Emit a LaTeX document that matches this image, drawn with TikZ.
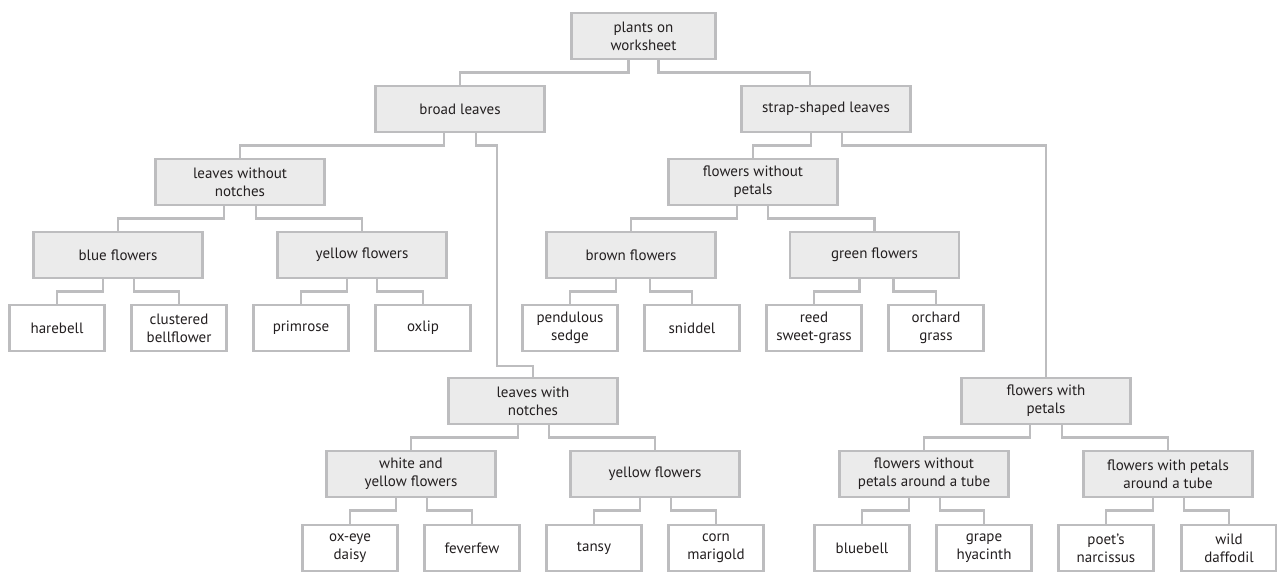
\documentclass[tikz,border=0pt]{standalone}
\usepackage{fontspec}
\setmainfont{PT Sans}
\definecolor{edgegray}{RGB}{189,189,191}
\definecolor{boxgray}{RGB}{235,235,235}
\definecolor{inkgray}{RGB}{35,31,32}
\begin{document}
\begin{tikzpicture}[x=1pt,y=-1pt,
  every node/.style={font=\fontsize{15}{18}\selectfont,text=inkgray,align=center,
    draw=edgegray,line width=2.8pt,inner sep=0pt},
  group/.style={fill=boxgray,minimum width=169pt,minimum height=46pt},
  plant/.style={fill=white,minimum width=95pt,minimum height=46pt},
  conn/.style={draw=edgegray,line width=2.8pt}]
\useasboundingbox (0,0) rectangle (1277,571);
\clip (0,0) rectangle (1277,571);
% key levels
\node[group,minimum width=144pt] (root) at (643.5,36) {plants on\\worksheet};
\node[group] (broad) at (460,109) {broad leaves};
\node[group] (strap) at (826,109) {strap-shaped leaves};
\node[group] (lwo) at (240,182) {leaves without\\notches};
\node[group] (fwop) at (753,182) {flowers without\\petals};
\node[group] (blue) at (118,255) {blue flowers};
\node[group] (yelA) at (362,255) {yellow flowers};
\node[group] (brown) at (631,255) {brown flowers};
\node[group] (green) at (874.5,255) {green flowers};
\node[group] (lwn) at (533,401) {leaves with\\notches};
\node[group] (fwp) at (1046,401) {flowers with\\petals};
\node[group] (wyf) at (411,474) {white and\\yellow flowers};
\node[group] (yelB) at (655,474) {yellow flowers};
\node[group] (tubeA) at (924,474) {flowers without\\petals around a tube};
\node[group] (tubeB) at (1168,474) {flowers with petals\\around a tube};
% plants
\node[plant] (harebell) at (57,328) {harebell};
\node[plant] (clustered) at (179,328) {clustered\\bellflower};
\node[plant] (primrose) at (301,328) {primrose};
\node[plant] (oxlip) at (423,328) {oxlip};
\node[plant] (sedge) at (570,328) {pendulous\\sedge};
\node[plant] (sniddel) at (692,328) {sniddel};
\node[plant] (reed) at (814,328) {reed\\sweet-grass};
\node[plant] (orchard) at (936,328) {orchard\\grass};
\node[plant] (oxeye) at (350,548) {ox-eye\\daisy};
\node[plant] (feverfew) at (472,548) {feverfew};
\node[plant] (tansy) at (594,548) {tansy};
\node[plant] (corn) at (716,548) {corn\\marigold};
\node[plant] (bluebell) at (862,548) {bluebell};
\node[plant] (grape) at (984,548) {grape\\hyacinth};
\node[plant] (poet) at (1106,548) {poet’s\\narcissus};
\node[plant] (wild) at (1229,548) {wild\\daffodil};
% connectors
\foreach \p/\c/\s in {root/broad/-15,broad/lwo/-16,strap/fwop/-15,strap/fwp/16,
  lwo/blue/-16,lwo/yelA/16,fwop/brown/-16,fwop/green/15,
  blue/harebell/-15,blue/clustered/16,yelA/primrose/-15,yelA/oxlip/15,
  brown/sedge/-15,brown/sniddel/19,green/reed/-15,green/orchard/19,
  lwn/wyf/-15,lwn/yelB/16,fwp/tubeA/-16,fwp/tubeB/16,
  wyf/oxeye/-15,wyf/feverfew/16,yelB/tansy/-15,yelB/corn/16,
  tubeA/bluebell/-15,tubeA/grape/16,tubeB/poet/-15,tubeB/wild/16}
  \draw[conn] (\p.south) ++(\s,0) -- ++(0,12) -| (\c.north);
\draw[conn] (root.south) ++(15,0) -- ++(0,12) -| ([xshift=-16pt]strap.north);
\coordinate (bend) at (497,366);
\draw[conn] (broad.south) ++(16,0) -- ++(0,12) -| (bend) -| (lwn.north);
\end{tikzpicture}
\end{document}
